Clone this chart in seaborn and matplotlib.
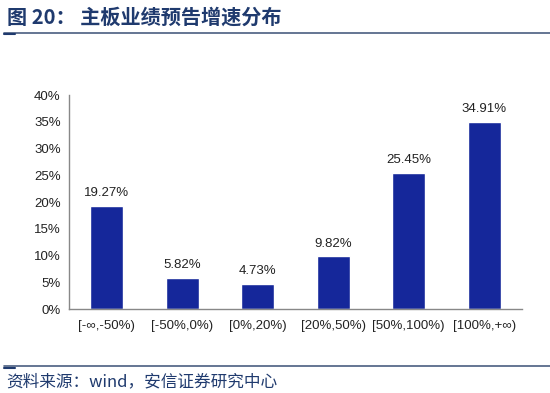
import seaborn as sns
import matplotlib.pyplot as plt
import matplotlib.ticker as mticker
import matplotlib.lines as mlines
import pandas as pd

categories = ['[-∞,-50%)', '[-50%,0%)', '[0%,20%)', '[20%,50%)', '[50%,100%)', '[100%,+∞)']
values = [19.27, 5.82, 4.73, 9.82, 25.45, 34.91]
labels = ['19.27%', '5.82%', '4.73%', '9.82%', '25.45%', '34.91%']

df = pd.DataFrame({'cat': categories, 'val': values})

sns.set_style('white')
plt.rcParams['font.family'] = ['Liberation Sans', 'DejaVu Sans']

fig = plt.figure(figsize=(5.5, 3.93), dpi=100)
ax = fig.add_axes([0.1255, 0.2137, 0.8235, 0.5445])

sns.barplot(data=df, x='cat', y='val', color='#15279A', saturation=1, width=0.44, ax=ax)

for i, (v, t) in enumerate(zip(values, labels)):
    ax.text(i, v + 1.3, t, ha='center', va='bottom', fontsize=9.5, color='#222222')

ax.set_ylim(0, 40)
ax.set_xlim(-0.5, len(categories) - 0.5)
ax.set_yticks(range(0, 41, 5))
ax.yaxis.set_major_formatter(mticker.FormatStrFormatter('%d%%'))
ax.set_xlabel('')
ax.set_ylabel('')
# ticks on the x axis sit between categories
ax.set_xticks([i + 0.5 for i in range(len(categories))], minor=False)
ax.set_xticklabels([])
ax.set_xticks(range(len(categories)), minor=True)
ax.set_xticklabels(categories, minor=True)
ax.tick_params(axis='x', which='major', direction='in', length=4, color='#888888')
ax.tick_params(axis='x', which='minor', length=0, labelsize=9.5, pad=8, labelcolor='#222222')
ax.tick_params(axis='y', direction='in', length=4, color='#888888', labelsize=9.5, labelcolor='#222222', pad=6)

for s in ['top', 'right']:
    ax.spines[s].set_visible(False)
for s in ['left', 'bottom']:
    ax.spines[s].set_color('#888888')
    ax.spines[s].set_linewidth(1)

# header and footer
cjk = ['Noto Sans CJK SC', 'DejaVu Sans']
fig.text(0.012, 1 - 17 / 393, '图 20： 主板业绩预告增速分布', fontsize=14.5, fontweight='bold',
         color='#1F3A6E', family=cjk, va='center', ha='left')
fig.add_artist(mlines.Line2D([0.008, 1], [1 - 32.5 / 393] * 2, color='#4A5E80', lw=1.2))
fig.add_artist(mlines.Line2D([0.008, 0.028], [1 - 34 / 393] * 2, color='#1F3A6E', lw=1.5))
fig.add_artist(mlines.Line2D([0.008, 1], [1 - 366 / 393] * 2, color='#4A5E80', lw=1.2))
fig.add_artist(mlines.Line2D([0.008, 0.028], [1 - 367.5 / 393] * 2, color='#1F3A6E', lw=1.5))
fig.text(0.012, 1 - 382 / 393, '资料来源：wind，安信证券研究中心', fontsize=12,
         color='#1F3A6E', family=cjk, va='center', ha='left', style='italic')

fig.savefig('out.png', dpi=100)
